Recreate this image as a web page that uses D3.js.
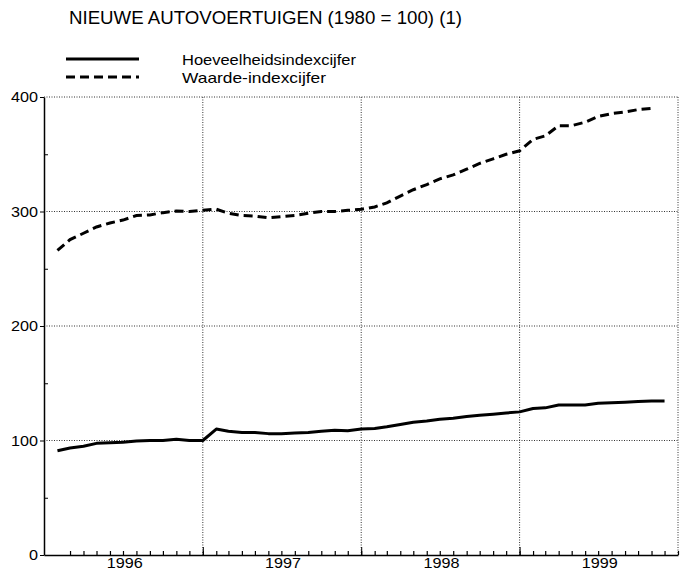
<!DOCTYPE html>
<html>
<head>
<meta charset="utf-8">
<script src="https://cdn.jsdelivr.net/npm/d3@7"></script>
<style>
  body { margin: 0; background: #fff; }
  svg { display: block; }
  text { font-family: "Liberation Sans", Arial, sans-serif; fill: #000; }
</style>
</head>
<body>
<div id="chart"></div>
<script>
// chart data
const title = "NIEUWE AUTOVOERTUIGEN (1980 = 100) (1)";
const seriesNames = ["Hoeveelheidsindexcijfer", "Waarde-indexcijfer"];
const years = ["1996", "1997", "1998", "1999"];
const yTicks = [0, 100, 200, 300, 400];
const yMinorTicks = [50, 150, 250, 350];

// monthly values, first value = feb 1996
const hoeveelheid = [91, 93.5, 95, 97.5, 98, 98.5, 99.5, 100, 100, 101, 100, 100,
  110, 108, 107, 107, 106, 106, 106.5, 107, 108, 109, 108.5, 110,
  110.5, 112, 114, 116, 117, 118.5, 119.5, 121, 122, 123, 124, 125,
  128, 128.5, 131, 131, 131, 132.5, 133, 133.5, 134, 134.5, 134.5];
const waarde = [266, 275.5, 281, 286.5, 290, 292.5, 296.5, 297, 299, 300.5, 300, 301,
  302, 298.5, 296.5, 296, 294.5, 295.5, 296.5, 298.5, 300, 300, 301, 302,
  304, 307.5, 313.5, 319, 323.5, 328.5, 332, 337, 342, 346, 350, 353,
  363, 366, 375, 375, 378, 383, 385.5, 387, 389, 390];

const width = 684, height = 571;
const plotLeft = 44, plotRight = 678, plotTop = 97, plotBottom = 555;

const svg = d3.select("#chart").append("svg")
  .attr("width", width)
  .attr("height", height);

const firstYear = +years[0];
const monthDate = i => new Date(firstYear, i + 1, 1);

const x = d3.scaleTime()
  .domain([new Date(firstYear, 0, 1), new Date(+years[years.length - 1] + 1, 0, 1)])
  .range([plotLeft, plotRight]);
const y = d3.scaleLinear().domain([0, 400]).range([plotBottom, plotTop]);

// title
svg.append("text")
  .attr("x", 69).attr("y", 24)
  .attr("font-size", 18)
  .attr("textLength", 393).attr("lengthAdjust", "spacingAndGlyphs")
  .text(title);

// legend
const legend = svg.append("g");
seriesNames.forEach((name, i) => {
  const ly = 59 + i * 18;
  legend.append("line")
    .attr("x1", 66).attr("x2", 139).attr("y1", ly).attr("y2", ly)
    .attr("stroke", "#000").attr("stroke-width", 3)
    .attr("stroke-dasharray", i === 1 ? "9,5" : null);
  legend.append("text")
    .attr("x", 182).attr("y", ly + 5.5)
    .attr("font-size", 15)
    .attr("textLength", i === 0 ? 174 : 144).attr("lengthAdjust", "spacingAndGlyphs")
    .text(name);
});

// grid: dotted lines
const yearBounds = d3.range(1, years.length + 1).map(k => new Date(firstYear + k, 0, 1));
const grid = svg.append("g")
  .attr("stroke", "#333").attr("stroke-width", 1).attr("stroke-dasharray", "1,1.5");
grid.selectAll(".h").data(yTicks.filter(v => v > 0)).join("line")
  .attr("class", "h")
  .attr("x1", plotLeft).attr("x2", plotRight)
  .attr("y1", d => y(d)).attr("y2", d => y(d));
grid.selectAll(".v").data(yearBounds).join("line")
  .attr("class", "v")
  .attr("x1", d => x(d)).attr("x2", d => x(d))
  .attr("y1", plotTop).attr("y2", plotBottom);

// y axis
const yAxis = svg.append("g")
  .attr("transform", `translate(${plotLeft},0)`)
  .call(d3.axisLeft(y).tickValues(yTicks).tickSize(4).tickPadding(2).tickSizeOuter(0));
yAxis.select(".domain").attr("stroke-width", 1.5);
yAxis.selectAll("text")
  .attr("font-size", 15)
  .attr("textLength", d => String(d).length * 9)
  .attr("lengthAdjust", "spacingAndGlyphs")
  .style("font-family", "Liberation Sans, Arial, sans-serif");

svg.append("g")
  .attr("transform", `translate(${plotLeft},0)`)
  .call(d3.axisRight(y).tickValues(yMinorTicks).tickSize(4).tickFormat(""))
  .call(g => g.select(".domain").remove());

// x axis: month ticks pointing inward
const monthTicks = d3.range(1, years.length * 12).map(monthDate);
const xAxis = svg.append("g")
  .attr("transform", `translate(0,${plotBottom})`)
  .call(d3.axisTop(x).tickValues(monthTicks).tickSize(4).tickFormat("").tickSizeOuter(0));
xAxis.select(".domain").attr("stroke-width", 1.5);
xAxis.selectAll(".tick line").attr("stroke-width", 1.2);

svg.append("g")
  .attr("transform", `translate(0,${plotBottom})`)
  .call(d3.axisTop(x).tickValues(yearBounds.slice(0, -1)).tickSize(8).tickFormat(""))
  .call(g => g.select(".domain").remove());

// year labels centred in each year
svg.append("g").selectAll("text").data(years).join("text")
  .attr("x", d => x(new Date(+d, 6, 5)))
  .attr("y", 568)
  .attr("text-anchor", "middle")
  .attr("font-size", 14)
  .attr("textLength", 36).attr("lengthAdjust", "spacingAndGlyphs")
  .text(d => d);

// series lines
const line = d3.line()
  .x((d, i) => x(monthDate(i)))
  .y(d => y(d));

svg.append("path")
  .datum(hoeveelheid)
  .attr("d", line)
  .attr("fill", "none")
  .attr("stroke", "#000")
  .attr("stroke-width", 3)
  .attr("stroke-linejoin", "round");

svg.append("path")
  .datum(waarde)
  .attr("d", line)
  .attr("fill", "none")
  .attr("stroke", "#000")
  .attr("stroke-width", 3)
  .attr("stroke-dasharray", "9,5");
</script>
</body>
</html>
